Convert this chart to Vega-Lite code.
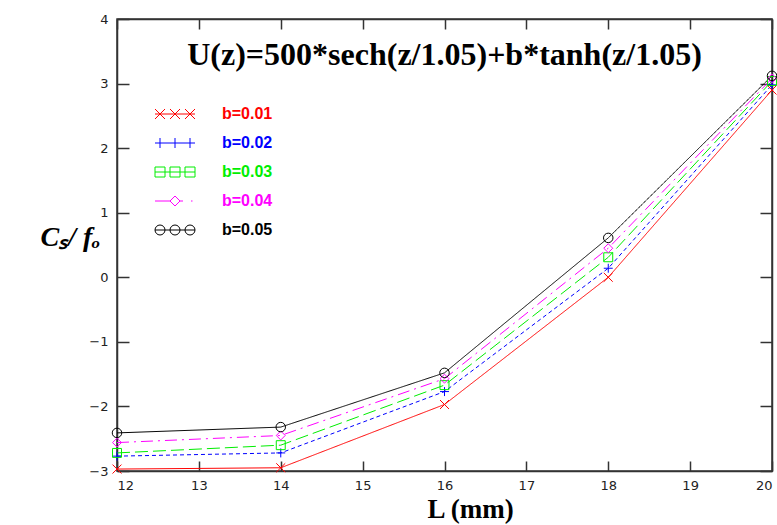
{
  "$schema": "https://vega.github.io/schema/vega-lite/v6.json",
  "width": 655,
  "height": 452,
  "autosize": {"type": "none"},
  "padding": {"left": 117, "top": 19, "right": 5, "bottom": 54},
  "background": "white",
  "config": {
    "view": {"stroke": "#333333", "strokeWidth": 1.5},
    "axis": {
      "grid": false,
      "labelFont": "DejaVu Sans",
      "labelFontSize": 13,
      "labelColor": "#222222",
      "domainColor": "#333333",
      "domainWidth": 1.5,
      "tickColor": "#333333",
      "tickWidth": 1.5
    }
  },
  "title": {
    "text": "U(z)=500*sech(z/1.05)+b*tanh(z/1.05)",
    "font": "Liberation Serif",
    "fontWeight": "bold",
    "fontSize": 32,
    "color": "#000000",
    "anchor": "middle",
    "baseline": "middle",
    "offset": -74
  },
  "data": {
    "values": [
      {"L": 12, "b": "b=0.01", "v": -2.97},
      {"L": 14, "b": "b=0.01", "v": -2.95},
      {"L": 16, "b": "b=0.01", "v": -1.97},
      {"L": 18, "b": "b=0.01", "v": 0.0},
      {"L": 20, "b": "b=0.01", "v": 2.9},
      {"L": 12, "b": "b=0.02", "v": -2.77},
      {"L": 14, "b": "b=0.02", "v": -2.72},
      {"L": 16, "b": "b=0.02", "v": -1.77},
      {"L": 18, "b": "b=0.02", "v": 0.14},
      {"L": 20, "b": "b=0.02", "v": 2.98},
      {"L": 12, "b": "b=0.03", "v": -2.72},
      {"L": 14, "b": "b=0.03", "v": -2.6},
      {"L": 16, "b": "b=0.03", "v": -1.67},
      {"L": 18, "b": "b=0.03", "v": 0.31},
      {"L": 20, "b": "b=0.03", "v": 3.04},
      {"L": 12, "b": "b=0.04", "v": -2.56},
      {"L": 14, "b": "b=0.04", "v": -2.45},
      {"L": 16, "b": "b=0.04", "v": -1.57},
      {"L": 18, "b": "b=0.04", "v": 0.45},
      {"L": 20, "b": "b=0.04", "v": 3.08},
      {"L": 12, "b": "b=0.05", "v": -2.41},
      {"L": 14, "b": "b=0.05", "v": -2.32},
      {"L": 16, "b": "b=0.05", "v": -1.48},
      {"L": 18, "b": "b=0.05", "v": 0.61},
      {"L": 20, "b": "b=0.05", "v": 3.12}
    ]
  },
  "layer": [
    {
      "mark": {"type": "line", "strokeWidth": 1, "clip": true},
      "encoding": {
        "x": {
          "field": "L",
          "type": "quantitative",
          "scale": {"domain": [12, 20], "nice": false},
          "axis": {
            "orient": "bottom",
            "values": [12, 13, 14, 15, 16, 17, 18, 19, 20],
            "tickSize": -10,
            "labelPadding": 18,
            "title": "L (mm)",
            "titleFont": "Liberation Serif",
            "titleFontWeight": "bold",
            "titleFontSize": 27,
            "titleColor": "#000000",
            "titleX": 353,
            "titleY": 25,
            "titleAlign": "center",
            "titleBaseline": "top"
          }
        },
        "y": {
          "field": "v",
          "type": "quantitative",
          "scale": {"domain": [-3, 4], "nice": false},
          "axis": {
            "orient": "left",
            "values": [-3, -2, -1, 0, 1, 2, 3, 4],
            "tickSize": -12,
            "labelPadding": 21,
            "title": "Cₛ/ fₒ",
            "titleFont": "Liberation Serif",
            "titleFontWeight": "bold",
            "titleFontStyle": "italic",
            "titleFontSize": 28,
            "titleColor": "#000000",
            "titleAngle": 0,
            "titleAlign": "left",
            "titleBaseline": "middle",
            "titleX": -77,
            "titleY": 218
          }
        },
        "stroke": {
          "field": "b",
          "type": "nominal",
          "scale": {
            "domain": ["b=0.05", "b=0.04", "b=0.03", "b=0.02", "b=0.01"],
            "range": ["#000000", "#ff00ff", "#00ee00", "#0000ff", "#ff0000"]
          },
          "legend": null
        },
        "strokeDash": {
          "field": "b",
          "type": "nominal",
          "scale": {
            "domain": ["b=0.05", "b=0.04", "b=0.03", "b=0.02", "b=0.01"],
            "range": [[1, 0], [12, 5, 2, 5], [13, 5], [4, 3], [1, 0]]
          },
          "legend": null
        }
      }
    },
    {
      "transform": [{"filter": "datum.b === 'b=0.01'"}],
      "mark": {"type": "point", "filled": false, "size": 80, "strokeWidth": 1, "opacity": 1, "color": "#ff0000", "shape": "M-1,-1L1,1M-1,1L1,-1"},
      "encoding": {
        "x": {
          "field": "L",
          "type": "quantitative",
          "axis": {
            "orient": "top",
            "values": [12, 13, 14, 15, 16, 17, 18, 19, 20],
            "tickSize": -10,
            "labels": false,
            "title": null
          }
        },
        "y": {
          "field": "v",
          "type": "quantitative",
          "axis": {
            "orient": "right",
            "values": [-3, -2, -1, 0, 1, 2, 3, 4],
            "tickSize": -12,
            "labels": false,
            "title": null
          }
        }
      }
    },
    {
      "transform": [{"filter": "datum.b === 'b=0.02'"}],
      "mark": {"type": "point", "filled": false, "size": 80, "strokeWidth": 1, "opacity": 1, "color": "#0000ff", "shape": "M-1,0L1,0M0,-1L0,1"},
      "encoding": {
        "x": {"field": "L", "type": "quantitative", "axis": null},
        "y": {"field": "v", "type": "quantitative", "axis": null}
      }
    },
    {
      "transform": [{"filter": "datum.b === 'b=0.03'"}],
      "mark": {"type": "point", "filled": false, "size": 80, "strokeWidth": 1, "opacity": 1, "color": "#00ee00", "shape": "square"},
      "encoding": {
        "x": {"field": "L", "type": "quantitative", "axis": null},
        "y": {"field": "v", "type": "quantitative", "axis": null}
      }
    },
    {
      "transform": [{"filter": "datum.b === 'b=0.04'"}],
      "mark": {"type": "point", "filled": false, "size": 80, "strokeWidth": 1, "opacity": 1, "color": "#ff00ff", "shape": "diamond"},
      "encoding": {
        "x": {"field": "L", "type": "quantitative", "axis": null},
        "y": {"field": "v", "type": "quantitative", "axis": null}
      }
    },
    {
      "transform": [{"filter": "datum.b === 'b=0.05'"}],
      "mark": {"type": "point", "filled": false, "size": 90, "strokeWidth": 1, "opacity": 1, "color": "#000000", "shape": "circle"},
      "encoding": {
        "x": {"field": "L", "type": "quantitative", "axis": null},
        "y": {"field": "v", "type": "quantitative", "axis": null}
      }
    },
    {
      "transform": [{"filter": "false"}],
      "mark": {"type": "point", "filled": false, "strokeWidth": 1, "opacity": 1},
      "encoding": {
        "color": {
          "field": "b",
          "type": "nominal",
          "scale": {
            "domain": ["b=0.01", "b=0.02", "b=0.03", "b=0.04", "b=0.05"],
            "range": ["#ff0000", "#0000ff", "#00ee00", "#ff00ff", "#000000"]
          },
          "legend": {
            "orient": "none",
            "legendX": 50,
            "legendY": 87,
            "title": null,
            "symbolSize": 100,
            "symbolStrokeWidth": 1,
            "labelOffset": 39,
            "rowPadding": 13,
            "labelFont": "Liberation Sans",
            "labelFontWeight": "bold",
            "labelFontSize": 16,
            "labelColor": {"expr": "datum.value === 'b=0.01' ? '#ff0000' : datum.value === 'b=0.02' ? '#0000ff' : datum.value === 'b=0.03' ? '#00ee00' : datum.value === 'b=0.04' ? '#ff00ff' : '#000000'"}
          }
        },
        "shape": {
          "field": "b",
          "type": "nominal",
          "scale": {
            "domain": ["b=0.01", "b=0.02", "b=0.03", "b=0.04", "b=0.05"],
            "range": [
              "M-4,0L4,0M-4,-1L-2,1M-4,1L-2,-1M-1,-1L1,1M-1,1L1,-1M2,-1L4,1M2,1L4,-1",
              "M-4,0L4,0M-3,-1L-3,1M0,-1L0,1M3,-1L3,1",
              "M-4,0L4,0M-4,-1L-2,-1L-2,1L-4,1ZM-1,-1L1,-1L1,1L-1,1ZM2,-1L4,-1L4,1L2,1Z",
              "M-4,0L-1,0L0,-1L1,0L0,1L-1,0M1,0L1.6,0M3.2,0L3.5,0",
              "M-4,0L4,0M-4,0A1,1 0 1,0 -2,0A1,1 0 1,0 -4,0M-1,0A1,1 0 1,0 1,0A1,1 0 1,0 -1,0M2,0A1,1 0 1,0 4,0A1,1 0 1,0 2,0"
            ]
          },
          "legend": {
            "orient": "none",
            "legendX": 50,
            "legendY": 87,
            "title": null,
            "symbolSize": 100,
            "symbolStrokeWidth": 1,
            "labelOffset": 39,
            "rowPadding": 13,
            "labelFont": "Liberation Sans",
            "labelFontWeight": "bold",
            "labelFontSize": 16,
            "labelColor": {"expr": "datum.value === 'b=0.01' ? '#ff0000' : datum.value === 'b=0.02' ? '#0000ff' : datum.value === 'b=0.03' ? '#00ee00' : datum.value === 'b=0.04' ? '#ff00ff' : '#000000'"}
          }
        }
      }
    }
  ]
}
